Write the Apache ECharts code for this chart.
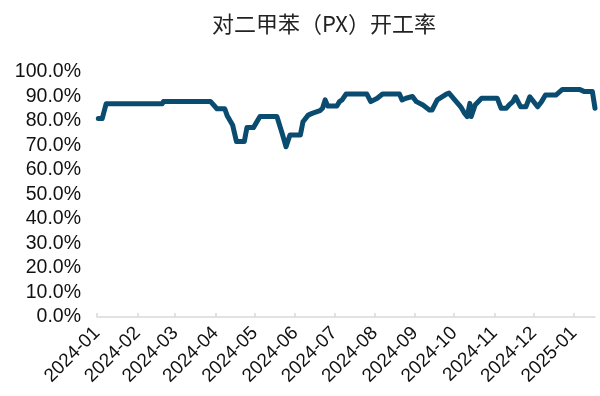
<!DOCTYPE html>
<html>
<head>
<meta charset="utf-8">
<script src="https://cdn.jsdelivr.net/npm/echarts@6/dist/echarts.min.js"></script>
<style>
  html, body { margin: 0; padding: 0; background: #fff; }
  #chart { width: 600px; height: 396px; }
</style>
</head>
<body>
<div id="chart"></div>
<script>
// PX (paraxylene) operating rate, daily readings where the level changes (%)
const dates = [
  '2024-01-02','2024-01-05','2024-01-08','2024-02-20','2024-02-21','2024-03-28',
  '2024-04-02','2024-04-08','2024-04-10','2024-04-14','2024-04-17','2024-04-23',
  '2024-04-25','2024-04-30','2024-05-05','2024-05-18','2024-05-22','2024-05-25',
  '2024-05-28','2024-06-05','2024-06-07','2024-06-11','2024-06-14','2024-06-20',
  '2024-06-22','2024-06-24','2024-06-26','2024-07-03','2024-07-05','2024-07-07',
  '2024-07-10','2024-07-26','2024-07-29','2024-08-03','2024-08-07','2024-08-20',
  '2024-08-22','2024-08-25','2024-08-30','2024-09-02','2024-09-07','2024-09-12',
  '2024-09-14','2024-09-18','2024-09-25','2024-09-27','2024-10-06','2024-10-09',
  '2024-10-11','2024-10-13','2024-10-14','2024-10-17','2024-10-22','2024-11-03',
  '2024-11-06','2024-11-10','2024-11-12','2024-11-15','2024-11-17','2024-11-21',
  '2024-11-25','2024-11-28','2024-12-04','2024-12-07','2024-12-10','2024-12-18',
  '2024-12-23','2025-01-05','2025-01-09','2025-01-15','2025-01-17'
];
const rates = [
  81.0, 81.0, 87.0, 87.0, 88.0, 88.0,
  85.0, 85.0, 82.0, 78.4, 71.6, 71.6,
  77.3, 77.3, 81.8, 81.8, 75.0, 69.5,
  74.3, 74.3, 79.7, 82.4, 83.1, 84.2,
  85.2, 88.6, 86.1, 86.1, 87.9, 88.6,
  91.0, 91.0, 87.9, 89.3, 91.0, 91.0,
  88.6, 89.3, 90.0, 87.9, 86.5, 84.5,
  84.5, 88.6, 91.0, 91.4, 85.8, 83.1,
  81.8, 87.2, 81.8, 86.5, 89.3, 89.3,
  85.2, 85.2, 86.5, 87.9, 89.9, 85.8,
  85.8, 89.9, 85.8, 87.9, 90.6, 90.6,
  92.9, 92.9, 92.0, 92.0, 85.2
];
const monthTicks = [
  '2024-01','2024-02','2024-03','2024-04','2024-05','2024-06','2024-07',
  '2024-08','2024-09','2024-10','2024-11','2024-12','2025-01'
];
const axisStart = '2024-01-01';
const axisEnd = '2025-01-17';

// Dates become millisecond timestamps on a plain value axis
function toTime(s) {
  const p = s.split('-').map(Number);
  return Date.UTC(p[0], p[1] - 1, p[2] || 1);
}

const seriesData = dates.map((d, i) => [toTime(d), rates[i]]);
const tickTimes = monthTicks.map(toTime);

const chart = echarts.init(document.getElementById('chart'), null, { renderer: 'canvas' });
chart.setOption({
  animation: false,
  title: {
    text: '对二甲苯（PX）开工率',
    left: 319,
    textAlign: 'center',
    top: 8,
    textStyle: {
      fontFamily: '"Noto Sans CJK SC", sans-serif',
      fontWeight: 'normal',
      fontSize: 22,
      color: '#222'
    }
  },
  grid: { left: 97, right: 5, top: 72, bottom: 79, containLabel: false },
  xAxis: {
    type: 'value',
    min: toTime(axisStart),
    max: toTime(axisEnd),
    axisLine: { show: true, lineStyle: { color: '#d9d9d9', width: 1.5 } },
    axisTick: { show: true, inside: true, length: 4, lineStyle: { color: '#d9d9d9', width: 1.5 }, customValues: tickTimes },
    splitLine: { show: false },
    axisLabel: {
      customValues: tickTimes,
      rotate: 45,
      margin: 13,
      fontFamily: '"Liberation Sans", Arial, sans-serif',
      fontSize: 19,
      color: '#111',
      formatter: function (v) {
        const d = new Date(v);
        return d.getUTCFullYear() + '-' + String(d.getUTCMonth() + 1).padStart(2, '0');
      }
    }
  },
  yAxis: {
    type: 'value',
    min: 0,
    max: 100,
    interval: 10,
    axisLine: { show: false },
    axisTick: { show: false },
    splitLine: { show: false },
    axisLabel: {
      margin: 16,
      fontFamily: '"Liberation Sans", Arial, sans-serif',
      fontSize: 19.5,
      color: '#111',
      formatter: v => v.toFixed(1) + '%'
    }
  },
  series: [{
    type: 'line',
    data: seriesData,
    showSymbol: false,
    lineStyle: { color: '#0a4c70', width: 5, join: 'round', cap: 'round' }
  }]
});
</script>
</body>
</html>
